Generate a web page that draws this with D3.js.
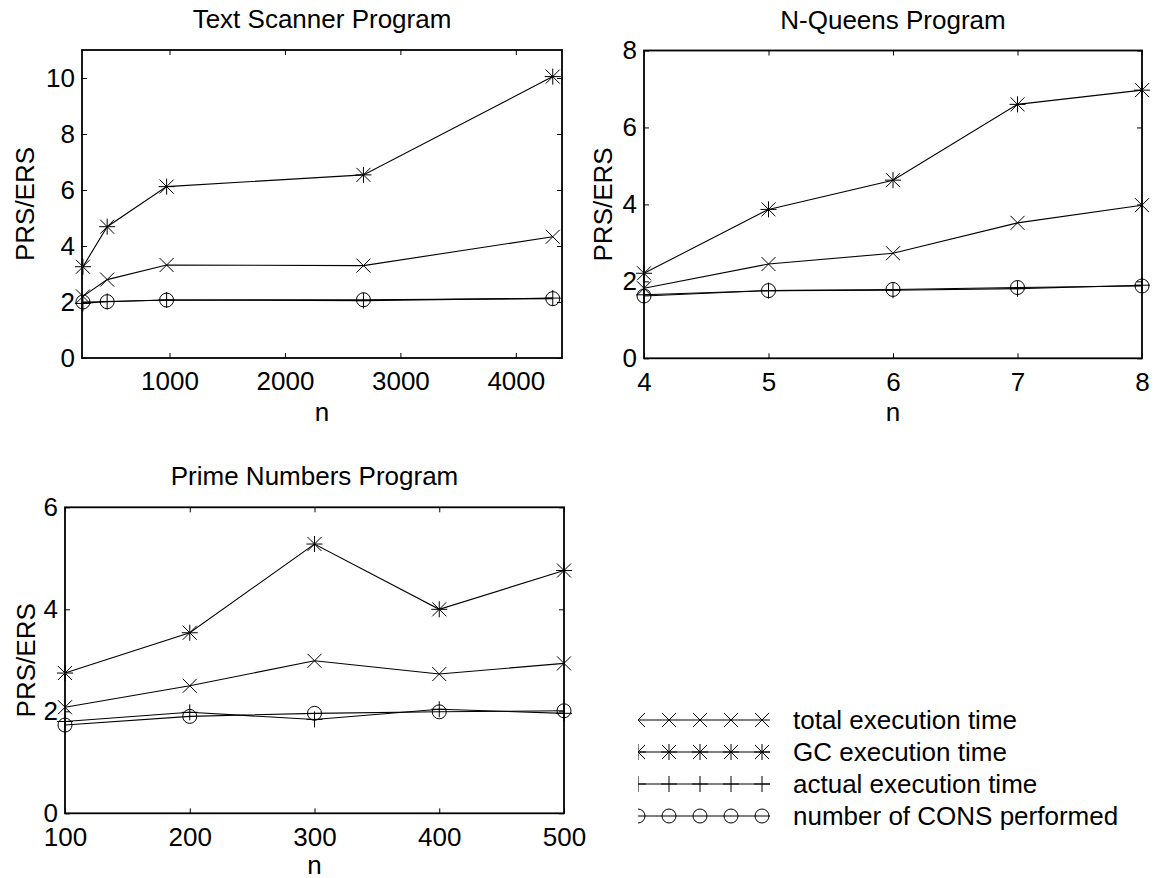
<!DOCTYPE html>
<html>
<head>
<meta charset="utf-8">
<script src="https://cdn.jsdelivr.net/npm/d3@7"></script>
<style>
  body { margin: 0; background: #fff; }
  svg text { font-family: "Liberation Sans", Arial, sans-serif; fill: #000; }
</style>
</head>
<body>
<svg id="chart" width="1158" height="878"></svg>
<script>
// ---- data ----
const seriesNames = ['total execution time', 'GC execution time', 'actual execution time', 'number of CONS performed'];
const seriesMarkers = ['x', 'star', 'plus', 'circle'];

const scannerN = [250, 460, 975, 2680, 4320];
const scannerTotal = [2.2, 2.8, 3.32, 3.3, 4.33];
const scannerGC = [3.26, 4.69, 6.12, 6.54, 10.05];
const scannerActual = [1.95, 2.02, 2.07, 2.05, 2.14];
const scannerCons = [2.0, 2.01, 2.07, 2.08, 2.12];
const scannerXTicks = [1000, 2000, 3000, 4000];
const scannerYTicks = [0, 2, 4, 6, 8, 10];

const queensN = [4, 5, 6, 7, 8];
const queensTotal = [1.82, 2.45, 2.73, 3.52, 3.98];
const queensGC = [2.21, 3.87, 4.63, 6.60, 6.97];
const queensActual = [1.65, 1.76, 1.77, 1.81, 1.90];
const queensCons = [1.62, 1.76, 1.79, 1.84, 1.88];
const queensXTicks = [4, 5, 6, 7, 8];
const queensYTicks = [0, 2, 4, 6, 8];

const primeN = [100, 200, 300, 400, 500];
const primeTotal = [2.08, 2.50, 2.99, 2.73, 2.94];
const primeGC = [2.75, 3.54, 5.28, 4.0, 4.76];
const primeActual = [1.80, 1.98, 1.84, 2.04, 1.96];
const primeCons = [1.73, 1.90, 1.96, 1.99, 2.01];
const primeXTicks = [100, 200, 300, 400, 500];
const primeYTicks = [0, 2, 4, 6];

// ---- layout ----
const FONT = 26;
const panels = [
  { title: 'Text Scanner Program', n: scannerN,
    series: [scannerTotal, scannerGC, scannerActual, scannerCons],
    xDomain: [242, 4400], yDomain: [0, 11], xTicks: scannerXTicks, yTicks: scannerYTicks,
    left: 82, right: 562, top: 50, bottom: 358, ylabelX: 34, xlabelGap: 63 },
  { title: 'N-Queens Program', n: queensN,
    series: [queensTotal, queensGC, queensActual, queensCons],
    xDomain: [4, 8], yDomain: [0, 8], xTicks: queensXTicks, yTicks: queensYTicks,
    left: 644, right: 1142, top: 50.5, bottom: 358.3, ylabelX: 612, xlabelGap: 63 },
  { title: 'Prime Numbers Program', n: primeN,
    series: [primeTotal, primeGC, primeActual, primeCons],
    xDomain: [100, 500], yDomain: [0, 6], xTicks: primeXTicks, yTicks: primeYTicks,
    left: 65, right: 564, top: 507.3, bottom: 813.3, ylabelX: 35, xlabelGap: 61 }
];

const svg = d3.select('#chart');

// marker shapes drawn as open strokes, like the plotting program does
function markerPath(type) {
  const p = d3.path();
  if (type === 'x' || type === 'star') {
    const r = 7;
    p.moveTo(-r, -r); p.lineTo(r, r);
    p.moveTo(-r, r); p.lineTo(r, -r);
  }
  if (type === 'plus' || type === 'star') {
    const r = 8;
    p.moveTo(-r, 0); p.lineTo(r, 0);
    p.moveTo(0, -r); p.lineTo(0, r);
  }
  if (type === 'circle') {
    p.moveTo(7, 0); p.arc(0, 0, 7, 0, 2 * Math.PI);
  }
  return p.toString();
}

function styleAxis(g) {
  g.attr('font-size', FONT).attr('font-family', null);
  g.select('.domain').remove();
  g.selectAll('.tick line').attr('stroke', '#000').attr('stroke-width', 1);
  g.selectAll('.tick text').attr('fill', '#000');
}

panels.forEach(p => {
  const x = d3.scaleLinear().domain(p.xDomain).range([p.left, p.right]);
  const y = d3.scaleLinear().domain(p.yDomain).range([p.bottom, p.top]);
  const g = svg.append('g');

  // axes with inward ticks on all four sides
  g.append('g').attr('transform', `translate(0,${p.bottom})`)
    .call(d3.axisBottom(x).tickValues(p.xTicks).tickFormat(d3.format('d'))
      .tickSizeInner(-5).tickSizeOuter(0).tickPadding(14))
    .call(styleAxis);
  g.append('g').attr('transform', `translate(0,${p.top})`)
    .call(d3.axisTop(x).tickValues(p.xTicks).tickFormat('')
      .tickSizeInner(-5).tickSizeOuter(0))
    .call(styleAxis);
  g.append('g').attr('transform', `translate(${p.left},0)`)
    .call(d3.axisLeft(y).tickValues(p.yTicks).tickFormat(d3.format('d'))
      .tickSizeInner(-5).tickSizeOuter(0).tickPadding(7))
    .call(styleAxis);
  g.append('g').attr('transform', `translate(${p.right},0)`)
    .call(d3.axisRight(y).tickValues(p.yTicks).tickFormat('')
      .tickSizeInner(-5).tickSizeOuter(0))
    .call(styleAxis);

  g.append('rect')
    .attr('x', p.left).attr('y', p.top)
    .attr('width', p.right - p.left).attr('height', p.bottom - p.top)
    .attr('fill', 'none').attr('stroke', '#000').attr('stroke-width', 1.8);

  // series lines + markers
  const line = d3.line().x(d => x(d[0])).y(d => y(d[1]));
  p.series.forEach((vals, si) => {
    const pts = vals.map((v, i) => [p.n[i], v]);
    g.append('path').datum(pts)
      .attr('d', line)
      .attr('fill', 'none').attr('stroke', '#000').attr('stroke-width', 1.1);
    g.selectAll(null).data(pts).enter().append('path')
      .attr('transform', d => `translate(${x(d[0])},${y(d[1])})`)
      .attr('d', markerPath(seriesMarkers[si]))
      .attr('fill', 'none').attr('stroke', '#000').attr('stroke-width', 1);
  });

  // labels
  const cx = (p.left + p.right) / 2;
  g.append('text').attr('x', cx).attr('y', p.top - 22)
    .attr('text-anchor', 'middle').attr('font-size', FONT).text(p.title);
  g.append('text').attr('x', cx).attr('y', p.bottom + p.xlabelGap)
    .attr('text-anchor', 'middle').attr('font-size', FONT).text('n');
  g.append('text')
    .attr('transform', `translate(${p.ylabelX},${(p.top + p.bottom) / 2}) rotate(-90)`)
    .attr('text-anchor', 'middle').attr('font-size', FONT).text('PRS/ERS');
});

// ---- legend ----
const legendLeft = 638, legendRight = 770, legendTop = 720, legendStep = 32;
const sampleStep = 31;
svg.append('defs').append('clipPath').attr('id', 'legend-clip')
  .append('rect').attr('x', legendLeft).attr('y', 690)
  .attr('width', legendRight - legendLeft + 2).attr('height', 150);

const legend = svg.append('g');
seriesNames.forEach((name, i) => {
  const ly = legendTop + i * legendStep;
  const sample = legend.append('g').attr('clip-path', 'url(#legend-clip)');
  sample.append('line')
    .attr('x1', legendLeft).attr('x2', legendRight).attr('y1', ly).attr('y2', ly)
    .attr('stroke', '#000').attr('stroke-width', 1.1);
  d3.range(5).forEach(k => {
    sample.append('path')
      .attr('transform', `translate(${legendLeft + k * sampleStep},${ly})`)
      .attr('d', markerPath(seriesMarkers[i]))
      .attr('fill', 'none').attr('stroke', '#000').attr('stroke-width', 1);
  });
  legend.append('text').attr('x', 793).attr('y', ly).attr('dy', '0.35em')
    .attr('font-size', FONT).text(name);
});
</script>
</body>
</html>
